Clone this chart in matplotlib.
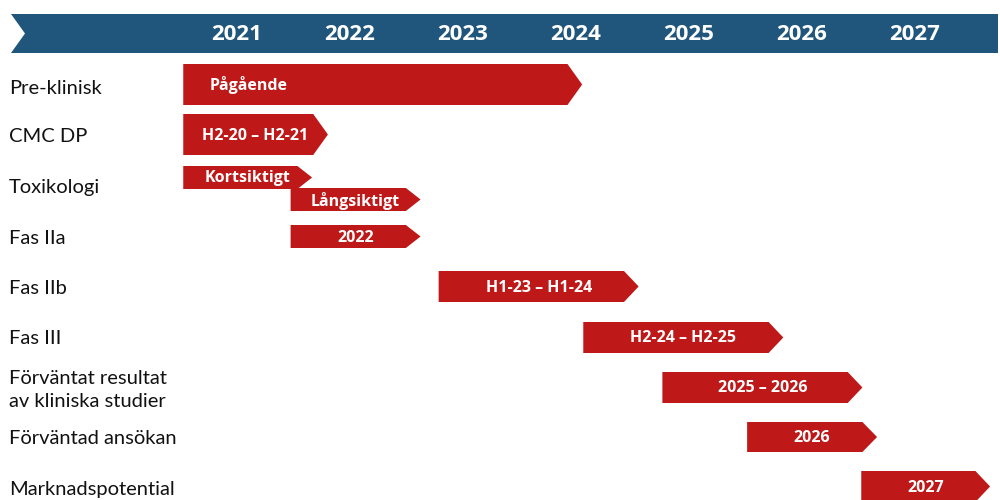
import matplotlib
matplotlib.use('Agg')
import matplotlib.pyplot as plt
from matplotlib.patches import Polygon

# Timeline data (years, fractional)
years = [2021, 2022, 2023, 2024, 2025, 2026, 2027]

phases = ['Pre-klinisk', 'CMC DP', 'Toxikologi', 'Fas IIa', 'Fas IIb', 'Fas III',
          'Förväntat resultat\nav kliniska studier', 'Förväntad ansökan', 'Marknadspotential']

bar_labels = ['Pågående', 'H2-20 – H2-21', 'Kortsiktigt', 'Långsiktigt', '2022',
              'H1-23 – H1-24', 'H2-24 – H2-25', '2025 – 2026', '2026', '2027']
bar_start = [2021.02, 2021.02, 2021.02, 2021.97, 2021.97, 2023.28, 2024.56, 2025.26, 2026.01, 2027.02]
bar_end = [2024.55, 2022.30, 2022.16, 2023.12, 2023.12, 2025.05, 2026.33, 2027.03, 2027.16, 2028.16]

# layout (pixel rows: top, bottom) for each bar, and label row centres
bar_rows = [(64, 105), (114, 155), (166, 189), (188, 211), (225, 248),
            (271, 302), (322, 353), (372, 403), (422, 452), (471, 502)]
label_y = [88, 137, 187, 238, 288, 338, 390, 438, 490]

RED = '#BE1818'
BLUE = '#21567C'
TIP = 0.13  # arrow tip depth in years

fig = plt.figure(figsize=(10, 5), dpi=100)
ax = fig.add_axes([0, 0, 1, 1])
px_per_year = 113
x0 = 2021 - 181 / px_per_year
ax.set_xlim(x0, x0 + 1000 / px_per_year)
ax.set_ylim(500, 0)
ax.axis('off')

# header banner with notched left edge
bx0, bx1 = x0 + 11 / px_per_year, x0 + 998 / px_per_year
notch = 14 / px_per_year
ax.add_patch(Polygon([(bx0, 14), (bx1, 14), (bx1, 53), (bx0, 53), (bx0 + notch, 33.5)],
                     closed=True, facecolor=BLUE, edgecolor='none'))
for yr in years:
    ax.text(yr + 0.49, 34, str(yr), color='white', fontsize=16, fontweight='bold',
            family='Open Sans', ha='center', va='center')

# phase labels
for name, yc in zip(phases, label_y):
    ax.text(x0 + 9 / px_per_year, yc, name, fontsize=14.5, family='Lato',
            ha='left', va='center', color='#111111', linespacing=1.4)

# arrow bars
for lab, s, e, (top, bot) in zip(bar_labels, bar_start, bar_end, bar_rows):
    mid = (top + bot) / 2
    ax.add_patch(Polygon([(s, top), (e - TIP, top), (e, mid), (e - TIP, bot), (s, bot)],
                         closed=True, facecolor=RED, edgecolor='none'))
    if lab == 'Pågående':
        ax.text(s + 26 / px_per_year, mid + 1, lab, color='white', fontsize=11.5,
                fontweight='bold', family='Open Sans', ha='left', va='center')
    else:
        ax.text((s + e) / 2, mid + 1, lab, color='white', fontsize=11.5,
                fontweight='bold', family='Open Sans', ha='center', va='center')

fig.savefig('out.png', dpi=100)
